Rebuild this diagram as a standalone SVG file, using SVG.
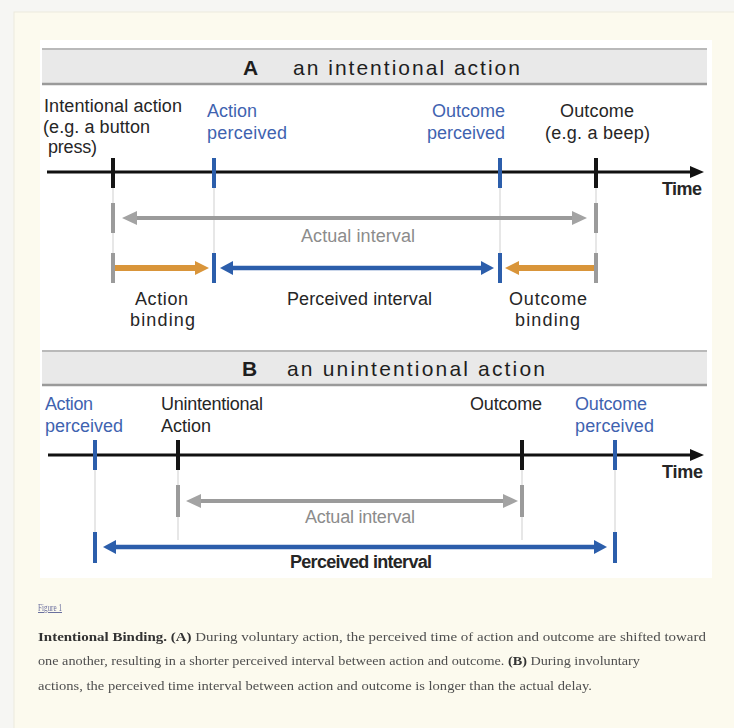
<svg xmlns="http://www.w3.org/2000/svg" width="734" height="728" viewBox="0 0 734 728">
  <style>
    .lbl { font-family: "Liberation Sans", Arial, sans-serif; font-size: 18px; fill: #262626; }
    .blue { fill: #3f63b0; }
    .grey { fill: #8c8c8c; }
    .bold { font-weight: bold; }
    .head { font-family: "Liberation Sans", Arial, sans-serif; font-size: 21px; fill: #1e1e1e; }
    .bar { fill: #e9e9e9; }
    .barTop { stroke: #b9b9b9; stroke-width: 2; }
    .barBot { stroke: #9a9a9a; stroke-width: 2.5; }
    .axis { stroke: #111; stroke-width: 3; fill: none; }
    .guide { stroke: #cfcfcf; stroke-width: 1; }
    .tk-black { fill: #151515; }
    .tk-blue { fill: #2c5eab; }
    .tk-grey { fill: #9b9b9b; }
    .ar-grey { stroke: #9b9b9b; stroke-width: 4; fill: none; }
    .ar-orange { stroke: #d9953a; stroke-width: 6; fill: none; }
    .ar-blue { stroke: #2c5eab; stroke-width: 4.5; fill: none; }
    .cap { font-family: "Liberation Serif", "Times New Roman", serif; font-size: 13.5px; fill: #4f4f4f; }
    .capb { font-weight: bold; fill: #333; }
  </style>
  <defs>
    <marker id="mBlack" markerUnits="userSpaceOnUse" viewBox="0 -8 16 16" markerWidth="16" markerHeight="16" refX="0" refY="0" orient="auto-start-reverse" overflow="visible">
      <path d="M0,-6 L14,0 L0,6 z" fill="#111"/>
    </marker>
    <marker id="mGrey" markerUnits="userSpaceOnUse" viewBox="0 -8 16 16" markerWidth="16" markerHeight="16" refX="0" refY="0" orient="auto-start-reverse" overflow="visible">
      <path d="M0,-7 L15,0 L0,7 z" fill="#a3a3a3"/>
    </marker>
    <marker id="mOrange" markerUnits="userSpaceOnUse" viewBox="0 -8 16 16" markerWidth="16" markerHeight="16" refX="0" refY="0" orient="auto-start-reverse" overflow="visible">
      <path d="M0,-7 L14,0 L0,7 z" fill="#d9953a"/>
    </marker>
    <marker id="mBlue" markerUnits="userSpaceOnUse" viewBox="0 -8 16 16" markerWidth="16" markerHeight="16" refX="0" refY="0" orient="auto-start-reverse" overflow="visible">
      <path d="M0,-7 L13,0 L0,7 z" fill="#2c5eab"/>
    </marker>
    <filter id="soft" x="-5%" y="-20%" width="110%" height="140%">
      <feGaussianBlur stdDeviation="0.45"/>
    </filter>
  </defs>

  <!-- page and figure panels -->
  <rect x="0" y="0" width="734" height="728" fill="#f6f6f3"/>
  <rect x="14" y="12" width="730" height="730" fill="#fcfaee" stroke="#ebe9dd" stroke-width="1"/>
  <rect x="40" y="40" width="672" height="538" fill="#ffffff"/>

  <!-- panel A header -->
  <g id="header-a">
    <rect class="bar" x="42" y="48" width="665" height="36"/>
    <line class="barTop" x1="42" y1="49" x2="707" y2="49"/>
    <line class="barBot" x1="42" y1="84" x2="707" y2="84"/>
    <text class="head bold" x="250.5" y="75" text-anchor="middle">A</text>
    <text class="head" x="293" y="75" textLength="227" lengthAdjust="spacing">an intentional action</text>
  </g>

  <!-- panel B header -->
  <g id="header-b">
    <rect class="bar" x="42" y="350" width="665" height="35"/>
    <line class="barTop" x1="42" y1="351" x2="707" y2="351"/>
    <line class="barBot" x1="42" y1="385" x2="707" y2="385"/>
    <text class="head bold" x="249.5" y="376" text-anchor="middle">B</text>
    <text class="head" x="287" y="376" textLength="258" lengthAdjust="spacing">an unintentional action</text>
  </g>

  <!-- connectors: time axes, guide lines and interval arrows -->
  <g id="connectors">
    <!-- vertical guides -->
    <line class="guide" x1="113" y1="188" x2="113" y2="253"/>
    <line class="guide" x1="214" y1="188" x2="214" y2="253"/>
    <line class="guide" x1="500" y1="188" x2="500" y2="253"/>
    <line class="guide" x1="596" y1="188" x2="596" y2="253"/>
    <line class="guide" x1="95" y1="470" x2="95" y2="532"/>
    <line class="guide" x1="178" y1="470" x2="178" y2="540"/>
    <line class="guide" x1="522" y1="470" x2="522" y2="540"/>
    <line class="guide" x1="615" y1="470" x2="615" y2="532"/>

    <!-- time axes -->
    <line class="axis" x1="47" y1="172" x2="690" y2="172" marker-end="url(#mBlack)"/>
    <line class="axis" x1="48" y1="455" x2="690" y2="455" marker-end="url(#mBlack)"/>

    <!-- A: actual interval -->
    <line class="ar-grey" x1="137" y1="218" x2="572" y2="218" marker-start="url(#mGrey)" marker-end="url(#mGrey)"/>
    <!-- A: action binding -->
    <line class="ar-orange" x1="115" y1="268" x2="195" y2="268" marker-end="url(#mOrange)"/>
    <!-- A: perceived interval -->
    <line class="ar-blue" x1="233" y1="268" x2="481" y2="268" marker-start="url(#mBlue)" marker-end="url(#mBlue)"/>
    <!-- A: outcome binding -->
    <line class="ar-orange" x1="594" y1="268" x2="519" y2="268" marker-end="url(#mOrange)"/>

    <!-- B: actual interval -->
    <line class="ar-grey" x1="201" y1="501" x2="503" y2="501" marker-start="url(#mGrey)" marker-end="url(#mGrey)"/>
    <!-- B: perceived interval -->
    <line class="ar-blue" x1="116" y1="547" x2="594" y2="547" marker-start="url(#mBlue)" marker-end="url(#mBlue)"/>
  </g>

  <!-- panel A events -->
  <g id="a-intentional-action">
    <rect class="tk-black" x="111" y="158" width="4" height="30"/>
    <rect class="tk-grey" x="111" y="203" width="4" height="30"/>
    <rect class="tk-grey" x="111" y="253" width="4" height="30"/>
    <text class="lbl" x="44" y="112" textLength="138" lengthAdjust="spacing">Intentional action</text>
    <text class="lbl" x="43" y="133" textLength="107" lengthAdjust="spacing">(e.g. a button</text>
    <text class="lbl" x="48" y="153" textLength="49" lengthAdjust="spacing">press)</text>
  </g>
  <g id="a-action-perceived">
    <rect class="tk-blue" x="212" y="158" width="4" height="30"/>
    <rect class="tk-blue" x="212" y="253" width="4" height="30"/>
    <text class="lbl blue" x="207" y="117" textLength="50" lengthAdjust="spacing">Action</text>
    <text class="lbl blue" x="207" y="139" textLength="80" lengthAdjust="spacing">perceived</text>
  </g>
  <g id="a-outcome-perceived">
    <rect class="tk-blue" x="498" y="158" width="4" height="30"/>
    <rect class="tk-blue" x="498" y="253" width="4" height="30"/>
    <text class="lbl blue" x="432" y="117" textLength="73" lengthAdjust="spacing">Outcome</text>
    <text class="lbl blue" x="427" y="139" textLength="78" lengthAdjust="spacing">perceived</text>
  </g>
  <g id="a-outcome">
    <rect class="tk-black" x="594" y="158" width="4" height="30"/>
    <rect class="tk-grey" x="594" y="203" width="4" height="30"/>
    <rect class="tk-grey" x="594" y="253" width="4" height="30"/>
    <text class="lbl" x="560" y="117" textLength="74" lengthAdjust="spacing">Outcome</text>
    <text class="lbl" x="545" y="139" textLength="105" lengthAdjust="spacing">(e.g. a beep)</text>
  </g>
  <g id="a-labels">
    <text class="lbl bold" x="662" y="195" textLength="40" lengthAdjust="spacing">Time</text>
    <text class="lbl grey" x="301" y="242" textLength="114" lengthAdjust="spacing">Actual interval</text>
    <text class="lbl" x="135" y="305" textLength="53" lengthAdjust="spacing">Action</text>
    <text class="lbl" x="130" y="326" textLength="65" lengthAdjust="spacing">binding</text>
    <text class="lbl" x="287" y="305" textLength="145" lengthAdjust="spacing">Perceived interval</text>
    <text class="lbl" x="509" y="305" textLength="78" lengthAdjust="spacing">Outcome</text>
    <text class="lbl" x="515" y="326" textLength="65" lengthAdjust="spacing">binding</text>
  </g>

  <!-- panel B events -->
  <g id="b-action-perceived">
    <rect class="tk-blue" x="93" y="440" width="4" height="30"/>
    <rect class="tk-blue" x="93" y="532" width="4" height="31"/>
    <text class="lbl blue" x="45" y="410" textLength="48" lengthAdjust="spacing">Action</text>
    <text class="lbl blue" x="45" y="432" textLength="78" lengthAdjust="spacing">perceived</text>
  </g>
  <g id="b-unintentional-action">
    <rect class="tk-black" x="176" y="440" width="4" height="30"/>
    <rect class="tk-grey" x="176" y="485" width="4" height="32"/>
    <text class="lbl" x="161" y="410" textLength="102" lengthAdjust="spacing">Unintentional</text>
    <text class="lbl" x="161" y="432" textLength="50" lengthAdjust="spacing">Action</text>
  </g>
  <g id="b-outcome">
    <rect class="tk-black" x="520" y="440" width="4" height="30"/>
    <rect class="tk-grey" x="520" y="485" width="4" height="32"/>
    <text class="lbl" x="470" y="410" textLength="72" lengthAdjust="spacing">Outcome</text>
  </g>
  <g id="b-outcome-perceived">
    <rect class="tk-blue" x="613" y="440" width="4" height="30"/>
    <rect class="tk-blue" x="613" y="532" width="4" height="31"/>
    <text class="lbl blue" x="575" y="410" textLength="72" lengthAdjust="spacing">Outcome</text>
    <text class="lbl blue" x="575" y="432" textLength="79" lengthAdjust="spacing">perceived</text>
  </g>
  <g id="b-labels">
    <text class="lbl bold" x="662" y="478" textLength="41" lengthAdjust="spacing">Time</text>
    <text class="lbl grey" x="305" y="523" textLength="110" lengthAdjust="spacing">Actual interval</text>
    <text class="lbl bold" x="290" y="568" textLength="142" lengthAdjust="spacing" fill="#111">Perceived interval</text>
  </g>

  <!-- figure caption -->
  <g id="caption" filter="url(#soft)">
    <text x="38" y="611" font-family="Liberation Serif, serif" font-size="10px" fill="#6b6f9e" text-decoration="underline" textLength="24" lengthAdjust="spacingAndGlyphs">Figure 1</text>
    <text class="cap" x="38" y="641" textLength="668" lengthAdjust="spacingAndGlyphs"><tspan class="capb">Intentional Binding.</tspan> <tspan class="capb">(A)</tspan> During voluntary action, the perceived time of action and outcome are shifted toward</text>
    <text class="cap" x="38" y="665" textLength="602" lengthAdjust="spacingAndGlyphs">one another, resulting in a shorter perceived interval between action and outcome. <tspan class="capb">(B)</tspan> During involuntary</text>
    <text class="cap" x="38" y="690" textLength="554" lengthAdjust="spacingAndGlyphs">actions, the perceived time interval between action and outcome is longer than the actual delay.</text>
  </g>
</svg>
